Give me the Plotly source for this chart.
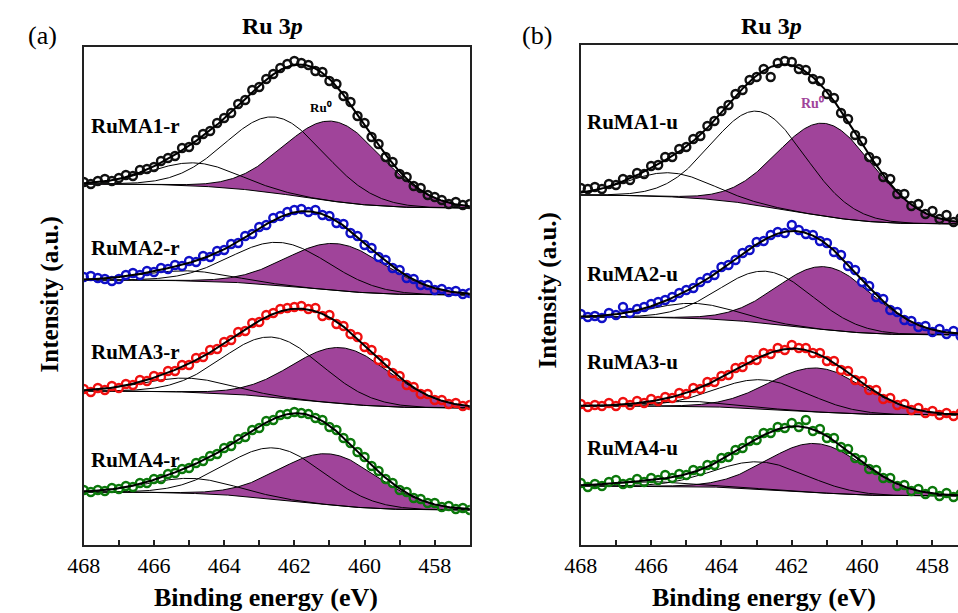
import numpy as np
import plotly.graph_objects as go

W, H = 958, 613
SERIF = "Liberation Serif"
PURPLE = "#A0449A"

# measured binding energies (eV), shared by all spectra
energy = [468.0, 467.8, 467.6, 467.4, 467.2, 467.0, 466.8, 466.6, 466.4, 466.2,
          466.0, 465.8, 465.6, 465.4, 465.2, 465.0, 464.8, 464.6, 464.4, 464.2,
          464.0, 463.8, 463.6, 463.4, 463.2, 463.0, 462.8, 462.6, 462.4, 462.2,
          462.0, 461.8, 461.6, 461.4, 461.2, 461.0, 460.8, 460.6, 460.4, 460.2,
          460.0, 459.8, 459.6, 459.4, 459.2, 459.0, 458.8, 458.6, 458.4, 458.2,
          458.0, 457.8, 457.6, 457.4, 457.2, 457.0]

# ---------------- panel (a): reduced samples (stacked intensities) ----------------
labels_a = ["RuMA1-r", "RuMA2-r", "RuMA3-r", "RuMA4-r"]
counts_a = [
    [363, 361, 364, 366, 364, 367, 370, 369, 375, 376, 378, 384, 387, 389, 397, 398, 405, 411,
     414, 422, 427, 432, 441, 445, 455, 458, 466, 471, 477, 481, 484, 482, 480, 474, 473, 464,
     461, 449, 443, 429, 422, 408, 401, 388, 383, 371, 368, 359, 357, 350, 348, 345, 341, 343,
     340, 341],
    [268, 269, 267, 266, 264, 266, 270, 272, 270, 274, 273, 277, 276, 280, 279, 284, 283, 289,
     288, 294, 295, 301, 302, 309, 311, 318, 320, 327, 329, 333, 335, 336, 333, 335, 330, 329,
     322, 321, 312, 309, 300, 297, 288, 285, 277, 275, 267, 266, 260, 260, 255, 256, 253, 254,
     251, 252],
    [156, 153, 157, 155, 159, 157, 161, 160, 165, 164, 169, 168, 174, 174, 180, 180, 187, 188,
     195, 196, 203, 205, 213, 214, 222, 223, 230, 232, 236, 237, 238, 239, 236, 237, 229, 230,
     221, 219, 211, 208, 198, 195, 185, 182, 172, 169, 160, 158, 151, 151, 145, 145, 141, 142,
     139, 140],
    [55, 53, 55, 54, 57, 56, 59, 58, 62, 62, 66, 66, 71, 72, 76, 77, 82, 84, 89, 91, 97, 99,
     106, 108, 115, 117, 124, 125, 130, 131, 133, 132, 131, 127, 125, 118, 115, 107, 102, 93,
     88, 79, 74, 66, 62, 55, 53, 47, 46, 42, 42, 38, 39, 36, 37, 35],
]
# fitted components: centre (eV), height above background, FWHM (eV)
ru0_c_a = [460.89, 460.80, 460.66, 460.99]
ru0_h_a = [80, 47, 56, 51]
ru0_w_a = [3.3, 3.3, 3.3, 3.3]
p2_c_a = [462.53, 462.39, 462.62, 462.53]
p2_h_a = [76, 43, 60, 51]
p2_w_a = [3.3, 3.3, 3.3, 3.3]
p3_c_a = [464.82, 465.05, 465.05, 464.91]
p3_h_a = [23, 10, 14, 15]
p3_w_a = [2.9, 2.9, 2.9, 2.9]
bg_hi_a = [361, 265, 154, 53]
bg_lo_a = [337, 250, 137, 35]

# ---------------- panel (b): untreated samples (stacked intensities) ----------------
labels_b = ["RuMA1-u", "RuMA2-u", "RuMA3-u", "RuMA4-u"]
counts_b = [
    [357, 356, 358, 356, 361, 360, 366, 365, 372, 371, 379, 380, 388, 388, 396, 398, 406, 409,
     419, 424, 434, 440, 451, 455, 465, 468, 476, 468, 482, 484, 483, 476, 475, 466, 464, 451,
     447, 432, 426, 410, 404, 388, 384, 368, 366, 351, 351, 339, 341, 331, 334, 326, 330, 323,
     327, 321],
    [231, 228, 229, 227, 232, 230, 238, 232, 236, 238, 241, 243, 245, 248, 252, 255, 257, 263,
     267, 270, 278, 280, 285, 292, 295, 303, 304, 310, 313, 312, 320, 315, 311, 310, 304, 302,
     293, 290, 279, 275, 263, 259, 248, 246, 235, 233, 225, 224, 218, 219, 213, 216, 211, 214,
     209, 211],
    [141, 138, 140, 139, 142, 139, 143, 140, 144, 142, 146, 144, 148, 147, 152, 151, 157, 156,
     163, 163, 169, 170, 177, 178, 185, 185, 192, 191, 197, 195, 200, 197, 197, 192, 192, 184,
     184, 175, 174, 165, 164, 155, 155, 146, 147, 140, 141, 135, 137, 132, 134, 130, 132, 129,
     132, 129],
    [62, 58, 61, 59, 63, 65, 61, 62, 66, 63, 67, 65, 70, 67, 71, 70, 75, 74, 80, 80, 87, 88, 95,
     97, 104, 105, 112, 112, 118, 117, 122, 118, 125, 114, 116, 107, 107, 98, 96, 87, 85, 76,
     75, 67, 67, 59, 60, 54, 56, 51, 54, 49, 52, 48, 51, 48],
]
ru0_c_b = [461.04, 461.04, 461.27, 461.31]
ru0_h_b = [93, 63, 44, 49]
ru0_w_b = [3.2, 3.2, 3.2, 3.2]
p2_c_b = [462.94, 462.71, 462.85, 462.90]
p2_h_b = [94, 52, 29, 27]
p2_w_b = [3.1, 3.1, 3.1, 3.1]
p3_c_b = [465.46, 464.76, 464.81, 465.80]
p3_h_b = [24, 15, 5, 4.5]
p3_w_b = [2.8, 2.8, 2.8, 2.8]
bg_hi_b = [350, 228, 139, 59]
bg_lo_b = [321, 210, 130, 49]

colors = ["#111111", "#1010c8", "#f01010", "#0b780b"]

# fine energy axis used to draw the fitted curves
E = np.linspace(457.0, 468.0, 551)


def gauss(c, h, w):
    return h * np.exp(-4 * np.log(2) * ((E - c) / w) ** 2)


def shirley(total, hi, lo):
    area = np.concatenate([[0.0], np.cumsum((total[1:] + total[:-1]) / 2 * np.diff(E))])
    return lo + (hi - lo) * area / area[-1]


fig = go.Figure()


def add_panel(xa, ya, counts, ru0c, ru0h, ru0w, p2c, p2h, p2w, p3c, p3h, p3w, bhi, blo):
    for i in range(4):
        ru0 = gauss(ru0c[i], ru0h[i], ru0w[i])
        p2 = gauss(p2c[i], p2h[i], p2w[i])
        p3 = gauss(p3c[i], p3h[i], p3w[i])
        bg = shirley(ru0 + p2 + p3, bhi[i], blo[i])
        thin = dict(color="black", width=1)
        fig.add_trace(go.Scatter(x=E, y=bg, mode="lines", line=thin, xaxis=xa, yaxis=ya,
                                 hoverinfo="skip"))
        fig.add_trace(go.Scatter(x=E, y=bg + ru0, mode="lines", line=thin, fill="tonexty",
                                 fillcolor=PURPLE, xaxis=xa, yaxis=ya, hoverinfo="skip"))
        fig.add_trace(go.Scatter(x=E, y=bg + p2, mode="lines", line=thin, xaxis=xa, yaxis=ya,
                                 hoverinfo="skip"))
        fig.add_trace(go.Scatter(x=E, y=bg + p3, mode="lines", line=thin, xaxis=xa, yaxis=ya,
                                 hoverinfo="skip"))
        fig.add_trace(go.Scatter(x=energy, y=counts[i], mode="markers", xaxis=xa, yaxis=ya,
                                 marker=dict(symbol="circle-open", size=8, color=colors[i],
                                             line=dict(color=colors[i], width=2.4))))
        fig.add_trace(go.Scatter(x=E, y=bg + ru0 + p2 + p3, mode="lines",
                                 line=dict(color="black", width=2), xaxis=xa, yaxis=ya,
                                 hoverinfo="skip"))


add_panel("x", "y", counts_a, ru0_c_a, ru0_h_a, ru0_w_a, p2_c_a, p2_h_a, p2_w_a,
          p3_c_a, p3_h_a, p3_w_a, bg_hi_a, bg_lo_a)
add_panel("x2", "y2", counts_b, ru0_c_b, ru0_h_b, ru0_w_b, p2_c_b, p2_h_b, p2_w_b,
          p3_c_b, p3_h_b, p3_w_b, bg_hi_b, bg_lo_b)


def px(x):
    return x / W


def py(y):
    return 1 - y / H


xcommon = dict(
    showgrid=False, zeroline=False, showline=True, linecolor="#222", linewidth=1.5,
    ticks="inside", ticklen=5, tickwidth=1.5, tickcolor="#222",
    tickvals=[468, 466, 464, 462, 460, 458],
    minor=dict(ticks="inside", ticklen=5, tickwidth=1.5, tickcolor="#222",
               tickvals=[467, 465, 463, 461, 459]),
    tickfont=dict(family=SERIF, size=22, color="black"),
)
ycommon = dict(showgrid=False, zeroline=False, showline=True, linecolor="#222",
               linewidth=1.5, showticklabels=False, ticks="")

fig.update_layout(
    width=W, height=H, margin=dict(l=0, r=0, t=0, b=0),
    paper_bgcolor="white", plot_bgcolor="white", showlegend=False,
    xaxis=dict(xcommon, domain=[px(68), px(461)], range=[468, 457], anchor="y", mirror=True),
    yaxis=dict(ycommon, domain=[py(545), py(47)], range=[0, 498], anchor="x", mirror=True),
    xaxis2=dict(xcommon, domain=[px(574), 1.0], range=[468, 468 - (958 - 574) / 35.8],
                anchor="y2", mirror=True),
    yaxis2=dict(ycommon, domain=[py(545), py(45)], range=[0, 500], anchor="x2", mirror=False),
)

ann = []


def text(x, y, s, size, xanchor="center", color="black", angle=0):
    ann.append(dict(x=px(x), y=py(y), xref="paper", yref="paper", text=s, showarrow=False,
                    xanchor=xanchor, yanchor="middle", textangle=angle,
                    font=dict(family=SERIF, size=size, color=color)))


text(26, 36, "(a)", 26)
text(529, 36, "(b)", 26)
text(260, 26, "<b>Ru 3<i>p</i></b>", 24)
text(768, 26, "<b>Ru 3<i>p</i></b>", 24)
text(253, 597, "<b>Binding energy (eV)</b>", 26)
text(760, 597, "<b>Binding energy (eV)</b>", 26)
text(34, 294, "<b>Intensity (a.u.)</b>", 25, angle=-90)
text(541, 290, "<b>Intensity (a.u.)</b>", 25, angle=-90)
for lab, y in zip(labels_a, [126, 248, 352, 460]):
    text(73, y, "<b>" + lab + "</b>", 21, xanchor="left")
for lab, y in zip(labels_b, [122, 274, 362, 448]):
    text(578, y, "<b>" + lab + "</b>", 21, xanchor="left")
text(310, 108, "<b>Ru⁰</b>", 13)
text(810, 103, "<b>Ru⁰</b>", 14, color=PURPLE)
fig.update_layout(annotations=ann)

fig.write_html("out.html")
